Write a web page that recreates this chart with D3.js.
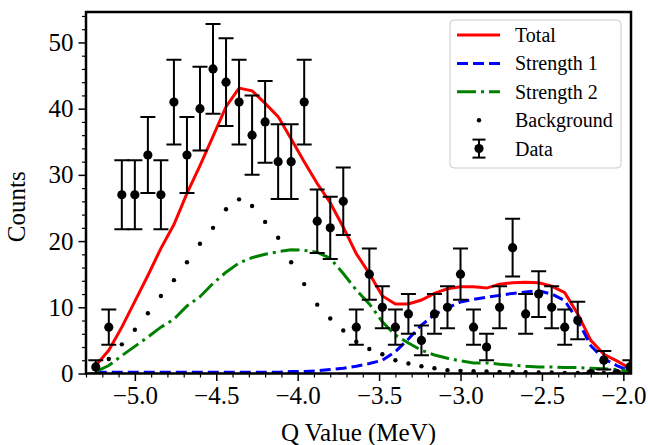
<!DOCTYPE html>
<html>
<head>
<meta charset="utf-8">
<script src="https://cdn.jsdelivr.net/npm/d3@7"></script>
<style>
  body { margin: 0; background: #fff; }
  svg { display: block; }
  text { font-family: "Liberation Serif", "Times New Roman", serif; fill: #000; }
</style>
</head>
<body>
<div id="chart"></div>
<script>
// bin centres (MeV)
const qValues = [-5.24, -5.16, -5.08, -5.00, -4.92, -4.84, -4.76, -4.68, -4.60, -4.52,
                 -4.44, -4.36, -4.28, -4.20, -4.12, -4.04, -3.96, -3.88, -3.80, -3.72,
                 -3.64, -3.56, -3.48, -3.40, -3.32, -3.24, -3.16, -3.08, -3.00, -2.92,
                 -2.84, -2.76, -2.68, -2.60, -2.52, -2.44, -2.36, -2.28, -2.20, -2.12,
                 -2.04, -1.96];

const dataCounts = [1, 7, 27, 27, 33, 27, 41, 33, 40, 46,
                    44, 41, 36, 38, 32, 32, 41, 23, 22, 26,
                    7, 15, 10, 7, 9, 5, 9, 10, 15, 7,
                    4, 10, 19, 9, 12, 10, 7, 8, 0, 2,
                    0, 1];

const dataErrors = [1.00, 2.65, 5.20, 5.20, 5.74, 5.20, 6.40, 5.74, 6.32, 6.78,
                    6.63, 6.40, 6.00, 6.16, 5.66, 5.66, 6.40, 4.80, 4.69, 5.10,
                    2.65, 3.87, 3.16, 2.65, 3.00, 2.24, 3.00, 3.16, 3.87, 2.65,
                    2.00, 3.16, 4.36, 3.00, 3.46, 3.16, 2.65, 2.83, 0.00, 1.41,
                    0.00, 1.00];

const total = [1.2, 3.5, 7.0, 10.9, 14.8, 18.9, 22.5, 27.2, 31.4, 35.8,
               40.3, 43.1, 42.7, 40.8, 38.8, 35.4, 32.0, 28.7, 25.8, 22.1,
               18.1, 15.1, 11.7, 10.5, 10.5, 11.1, 12.1, 12.8, 13.1, 13.1,
               12.9, 13.5, 13.7, 13.8, 13.7, 13.2, 12.2, 9.0, 5.0, 2.9,
               1.9, 0.8];

const strength1 = [0.2, 0.2, 0.2, 0.2, 0.2, 0.2, 0.2, 0.2, 0.2, 0.2,
                   0.2, 0.2, 0.2, 0.2, 0.2, 0.3, 0.3, 0.4, 0.6, 0.8,
                   1.1, 1.5, 2.0, 3.3, 5.2, 7.3, 8.9, 9.9, 10.8, 11.2,
                   11.5, 11.8, 12.1, 12.3, 12.5, 12.0, 11.0, 8.0, 4.2, 2.2,
                   1.2, 0.4];

const strength2 = [0.3, 1.2, 2.7, 4.1, 5.5, 7.0, 8.2, 10.2, 11.6, 13.6,
                   15.3, 16.7, 17.5, 18.0, 18.4, 18.7, 18.6, 18.3, 17.4, 15.1,
                   12.6, 10.5, 7.8, 5.8, 4.6, 3.5, 2.8, 2.3, 1.9, 1.6,
                   1.6, 1.4, 1.25, 1.1, 1.0, 1.0, 0.9, 0.9, 0.8, 0.7,
                   0.6, 0.3];

const background = [0.8, 2.2, 4.4, 6.6, 9.1, 11.7, 14.1, 16.8, 19.6, 22.0,
                    24.8, 26.3, 25.3, 22.9, 20.5, 16.8, 13.5, 10.4, 8.3, 6.5,
                    4.8, 3.7, 2.9, 2.0, 1.5, 1.1, 0.8, 0.5, 0.4, 0.35,
                    0.3, 0.25, 0.2, 0.2, 0.15, 0.15, 0.1, 0.1, 0.1, 0.1,
                    0.1, 0.05];

const xTicks = [-5.0, -4.5, -4.0, -3.5, -3.0, -2.5, -2.0];
const yTicks = [0, 10, 20, 30, 40, 50];
const legendLabels = ["Total", "Strength 1", "Strength 2", "Background", "Data"];

const W = 648, H = 445;
const margin = {top: 12, right: 17, bottom: 71.5, left: 86};
const width = W - margin.left - margin.right;
const height = H - margin.top - margin.bottom;

const svg = d3.select("#chart").append("svg")
    .attr("width", W)
    .attr("height", H);

const g = svg.append("g")
    .attr("transform", "translate(" + margin.left + "," + margin.top + ")");

const x = d3.scaleLinear().domain([-5.30, -1.953]).range([0, width]);
const y = d3.scaleLinear().domain([0, 54.6]).range([height, 0]);

const minus = d => d.toString().replace("-", "\u2212");

// clip
g.append("defs").append("clipPath").attr("id", "clip")
  .append("rect").attr("width", width).attr("height", height);

//////////
// AXES //
//////////

const xMinor = d3.range(-53, -19).map(d => d / 10).filter(d => !xTicks.some(t => Math.abs(t - d) < 1e-6));
const yMinor = d3.range(0, 55, 2).filter(d => d % 10 !== 0);

g.append("g")
    .attr("transform", "translate(0," + height + ")")
    .call(d3.axisBottom(x).tickValues(xMinor).tickSize(4).tickFormat(""))
    .call(a => a.select(".domain").remove())
    .selectAll("line").attr("stroke-width", 1.2);

g.append("g")
    .attr("transform", "translate(0," + height + ")")
    .call(d3.axisBottom(x).tickValues(xTicks).tickSize(7.5).tickPadding(5)
        .tickFormat(d => minus(d.toFixed(1))))
    .call(a => a.select(".domain").remove())
    .call(a => a.selectAll("line").attr("stroke-width", 1.5))
    .call(a => a.selectAll("text").style("font-size", "25px")
        .style("font-family", "'Liberation Serif', serif"));

g.append("g")
    .call(d3.axisLeft(y).tickValues(yMinor).tickSize(4).tickFormat(""))
    .call(a => a.select(".domain").remove())
    .selectAll("line").attr("stroke-width", 1.2);

g.append("g")
    .call(d3.axisLeft(y).tickValues(yTicks).tickSize(7.5).tickPadding(5))
    .call(a => a.select(".domain").remove())
    .call(a => a.selectAll("line").attr("stroke-width", 1.5))
    .call(a => a.selectAll("text").style("font-size", "25px")
        .style("font-family", "'Liberation Serif', serif"));

// axis labels
g.append("text")
    .attr("x", width / 2)
    .attr("y", height + 67)
    .attr("text-anchor", "middle")
    .style("font-size", "25px")
    .text("Q Value (MeV)");

g.append("text")
    .attr("transform", "translate(" + (-61) + "," + (height / 2 + 14) + ") rotate(-90)")
    .attr("text-anchor", "middle")
    .style("font-size", "25px")
    .text("Counts");

///////////
// LINES //
///////////

const plot = g.append("g").attr("clip-path", "url(#clip)");

const lineOf = arr => d3.line()
    .x((d, i) => x(qValues[i]))
    .y(d => y(d))(arr);

plot.append("path")
    .attr("d", lineOf(total))
    .attr("fill", "none").attr("stroke", "#ff0000").attr("stroke-width", 3);

plot.append("path")
    .attr("d", lineOf(strength1))
    .attr("fill", "none").attr("stroke", "#0000ff").attr("stroke-width", 3)
    .attr("stroke-dasharray", "11,5");

plot.append("path")
    .attr("d", lineOf(strength2))
    .attr("fill", "none").attr("stroke", "#008000").attr("stroke-width", 3)
    .attr("stroke-dasharray", "19,5,3,5");

plot.selectAll(".bg")
    .data(background)
    .enter().append("circle")
    .attr("class", "bg")
    .attr("cx", (d, i) => x(qValues[i]))
    .attr("cy", d => y(d))
    .attr("r", 2.2)
    .attr("fill", "#000");

//////////
// DATA //
//////////

const errs = plot.selectAll(".err")
    .data(dataCounts)
    .enter().append("g")
    .attr("class", "err")
    .attr("stroke", "#000")
    .attr("stroke-width", 2);

errs.append("line")
    .attr("x1", (d, i) => x(qValues[i])).attr("x2", (d, i) => x(qValues[i]))
    .attr("y1", (d, i) => y(d - dataErrors[i])).attr("y2", (d, i) => y(d + dataErrors[i]));

[-1, 1].forEach(s => {
  errs.append("line")
      .attr("x1", (d, i) => x(qValues[i]) - 7.5).attr("x2", (d, i) => x(qValues[i]) + 7.5)
      .attr("y1", (d, i) => y(d + s * dataErrors[i])).attr("y2", (d, i) => y(d + s * dataErrors[i]));
});

plot.selectAll(".dot")
    .data(dataCounts)
    .enter().append("circle")
    .attr("class", "dot")
    .attr("cx", (d, i) => x(qValues[i]))
    .attr("cy", d => y(d))
    .attr("r", 4.6)
    .attr("fill", "#000");

// frame
g.append("rect")
    .attr("width", width).attr("height", height)
    .attr("fill", "none").attr("stroke", "#000").attr("stroke-width", 2.5);

////////////
// LEGEND //
////////////

const lg = svg.append("g").attr("transform", "translate(450,20)");
lg.append("rect")
    .attr("width", 171).attr("height", 148).attr("rx", 4)
    .attr("fill", "#fff").attr("fill-opacity", 0.8)
    .attr("stroke", "#ccc").attr("stroke-width", 1);

const rowY = i => 15 + i * 28.4;
const hx0 = 7, hx1 = 50, hxm = 29;

lg.append("line").attr("x1", hx0).attr("x2", hx1).attr("y1", rowY(0)).attr("y2", rowY(0))
    .attr("stroke", "#ff0000").attr("stroke-width", 3);
lg.append("line").attr("x1", hx0).attr("x2", hx1).attr("y1", rowY(1)).attr("y2", rowY(1))
    .attr("stroke", "#0000ff").attr("stroke-width", 3).attr("stroke-dasharray", "11,5");
lg.append("line").attr("x1", hx0).attr("x2", hx1).attr("y1", rowY(2)).attr("y2", rowY(2))
    .attr("stroke", "#008000").attr("stroke-width", 3).attr("stroke-dasharray", "19,5,3,5");
lg.append("circle").attr("cx", hxm).attr("cy", rowY(3)).attr("r", 2.2).attr("fill", "#000");

const dh = lg.append("g").attr("stroke", "#000").attr("stroke-width", 2);
dh.append("line").attr("x1", hxm).attr("x2", hxm).attr("y1", rowY(4) - 9).attr("y2", rowY(4) + 9);
dh.append("line").attr("x1", hxm - 6.5).attr("x2", hxm + 6.5).attr("y1", rowY(4) - 9).attr("y2", rowY(4) - 9);
dh.append("line").attr("x1", hxm - 6.5).attr("x2", hxm + 6.5).attr("y1", rowY(4) + 9).attr("y2", rowY(4) + 9);
lg.append("circle").attr("cx", hxm).attr("cy", rowY(4)).attr("r", 4.6).attr("fill", "#000");

lg.selectAll(".lt")
    .data(legendLabels)
    .enter().append("text")
    .attr("class", "lt")
    .attr("x", 65)
    .attr("y", (d, i) => rowY(i))
    .attr("dy", "0.35em")
    .style("font-size", "20px")
    .text(d => d);
</script>
</body>
</html>
